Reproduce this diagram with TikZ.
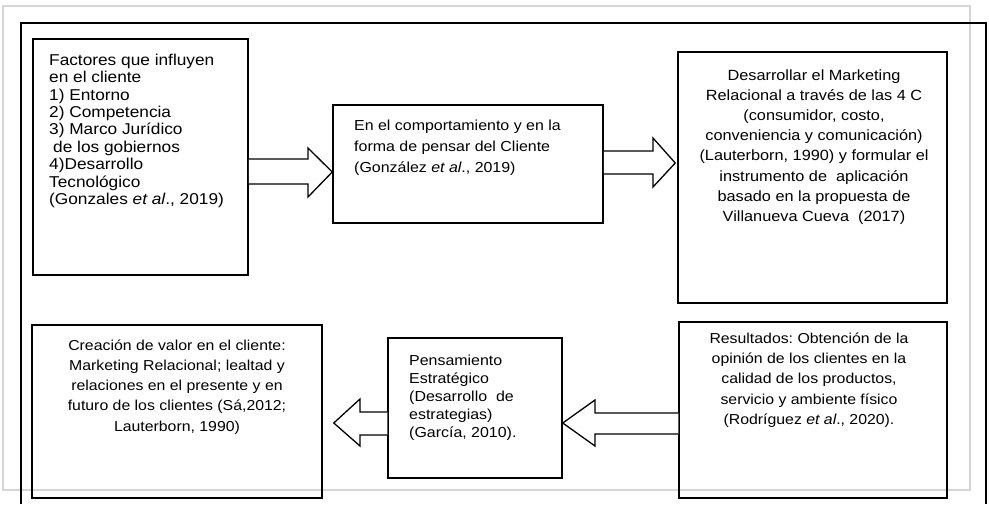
\documentclass[tikz,border=0pt]{standalone}
\usepackage{fontspec}
\setmainfont{Liberation Sans}[FakeStretch=1.1]
\usetikzlibrary{calc}
\frenchspacing
\definecolor{framegrey}{HTML}{D6D6D6}
\tikzset{
  boxnode/.style={draw=black, line width=1.5pt, inner sep=0pt},
  blockarrow/.style={draw=black, line width=1.3pt, fill=white, line join=miter},
  txtA/.style={inner sep=0pt, align=left, font=\fontsize{15.7}{17.4}\selectfont},
  txtB/.style={inner sep=0pt, align=left, font=\fontsize{14.5}{20.8}\selectfont},
  txtC/.style={inner sep=0pt, align=center, font=\fontsize{14.8}{20.2}\selectfont},
  txtE/.style={inner sep=0pt, align=center, font=\fontsize{14.4}{20.3}\selectfont},
  txtD/.style={inner sep=0pt, align=left, font=\fontsize{14.5}{18.2}\selectfont},
}
\begin{document}
\begin{tikzpicture}[x=1pt,y=-1pt]
\useasboundingbox (0,0) rectangle (989,504);
% frames
\draw[framegrey, line width=2pt] (3,6) rectangle (970,490);
\draw[black, line width=1.6pt] (21,504) -- (21,23) -- (986,23) -- (986,504);

% boxes
\node[boxnode, minimum width=215pt, minimum height=236pt] (b1) at (140.5,157) {};
\node[boxnode, minimum width=270pt, minimum height=118pt] (b2) at (468,164) {};
\node[boxnode, minimum width=269pt, minimum height=251pt] (b3) at (812.5,177.5) {};
\node[boxnode, minimum width=268pt, minimum height=176pt] (b4) at (813,410) {};
\node[boxnode, minimum width=174pt, minimum height=140pt] (b5) at (475,408) {};
\node[boxnode, minimum width=290pt, minimum height=173pt] (b6) at (177,411.5) {};

% texts (base anchor = baseline of the last line)
\node[txtA, anchor=base west] (t1) at (49,204.5) {Factores que influyen\\en el cliente\\1) Entorno\\2) Competencia\\3) Marco Jurídico\\\hspace{4pt}de los gobiernos\\4)Desarrollo\\Tecnológico\\(Gonzales \textit{et al}., 2019)};
\node[txtB, anchor=base west] (t2) at (354,172.3) {En el comportamiento y en la\\forma de pensar del Cliente\\(González \textit{et al}., 2019)};
\node[txtC, anchor=base] (t3) at (814,221.4) {Desarrollar el Marketing\\Relacional a través de las 4 C\\(consumidor, costo,\\conveniencia y comunicación)\\(Lauterborn, 1990) y formular el\\instrumento de\ \ aplicación\\basado en la propuesta de\\Villanueva Cueva\ \ (2017)};
\node[txtE, anchor=base] (t4) at (809,424.5) {Resultados: Obtención de la\\opinión de los clientes en la\\calidad de los productos,\\servicio y ambiente físico\\(Rodríguez \textit{et al}., 2020).};
\node[txtD, anchor=base west] (t5) at (409,437.8) {Pensamiento\\Estratégico\\(Desarrollo\ \ de\\estrategias)\\(García, 2010).};
\node[txtE, anchor=base] (t6) at (177,431.2) {Creación de valor en el cliente:\\Marketing Relacional; lealtad y\\relaciones en el presente y en\\futuro de los clientes (Sá,2012;\\Lauterborn, 1990)};

% block arrows
\draw[blockarrow] (b1.east |- 0,159) -- (308,159) -- (308,148) -- (b2.west |- 0,172)
  -- (308,197) -- (308,184) -- (b1.east |- 0,184);
\draw[blockarrow] (b2.east |- 0,151) -- (653,151) -- (653,138) -- ($(b3.west |- 0,163)+(-2,0)$)
  -- (653,187) -- (653,174) -- (b2.east |- 0,174);
\draw[blockarrow] (b4.west |- 0,413) -- (595,413) -- (595,400) -- (b5.east |- 0,423)
  -- (595,446) -- (595,434) -- (b4.west |- 0,434);
\draw[blockarrow] (b5.west |- 0,412) -- (360,412) -- (360,399) -- ($(b6.east |- 0,423)+(11,0)$)
  -- (360,446) -- (360,435) -- (b5.west |- 0,435);
\end{tikzpicture}
\end{document}
